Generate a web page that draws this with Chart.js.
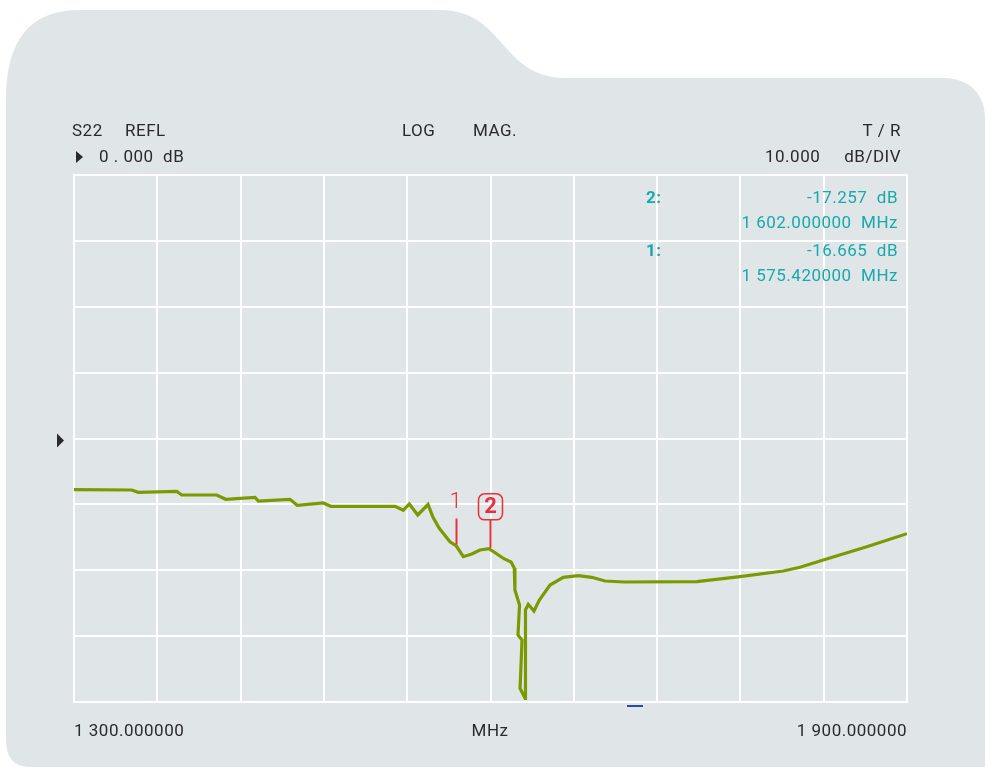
<!DOCTYPE html>
<html>
<head>
<meta charset="utf-8">
<script src="https://cdn.jsdelivr.net/npm/chart.js@4/dist/chart.umd.min.js"></script>
<style>
  html, body { margin: 0; padding: 0; background: #fff; }
  #box { width: 985px; height: 767px; position: relative; }
</style>
</head>
<body>
<div id="box"><canvas id="grafico" width="985" height="767"></canvas></div>
<script>
// Traço S22 (frequência em MHz, magnitude em dB)
const freqMHz = [1300, 1341.6, 1346.3, 1374.0, 1377.6, 1402.8, 1409.3, 1430.4, 1432.8, 1455.6,
  1460.8, 1479.6, 1484.9, 1531.2, 1537.2, 1541.5, 1547.6, 1555.0, 1558.4, 1563.1,
  1570.8, 1575.4, 1580.4, 1586.5, 1592.4, 1598.9, 1603.3, 1609.7, 1614.8, 1617.1,
  1617.6, 1620.9, 1619.8, 1622.7, 1621.3, 1624.9, 1625.2, 1627.2, 1631.3, 1635.2,
  1642.9, 1652.4, 1663.2, 1672.9, 1682.5, 1696.2, 1748.7, 1779.7, 1810.9, 1822.9,
  1839.7, 1871.0, 1900];
const magDb = [-7.77, -7.82, -8.17, -8.02, -8.58, -8.58, -9.23, -8.93, -9.49, -9.23,
  -10.14, -9.79, -10.29, -10.29, -10.90, -9.94, -11.61, -10.02, -11.87, -13.63,
  -15.67, -16.32, -17.94, -17.53, -16.93, -16.73, -17.34, -18.25, -18.75, -19.66,
  -23.0, -25.28, -29.83, -30.59, -37.92, -39.44, -26.03, -25.17, -26.19, -24.52,
  -22.24, -21.07, -20.83, -21.07, -21.63, -21.78, -21.74, -20.98, -20.11, -19.55,
  -18.44, -16.43, -14.45];

// Marcadores (posição como aparece no desenho)
const markerNames = ["1", "2"];
const markerFreq = [1575.4, 1599.6];
const markerLevel = [-16.1, -16.6];
const markerReadDb = ["-17.257  dB", "-16.665  dB"];
const markerReadHz = ["1 602.000000  MHz", "1 575.420000  MHz"];
const markerReadName = ["2:", "1:"];

// Eixos
const freqStart = 1300, freqStop = 1900, freqStep = 60;
const refLevel = 0, dbPerDiv = 10, nDiv = 8;
const startLabel = "1 300.000000";
const stopLabel = "1 900.000000";

const FONTE = "Roboto, 'Liberation Sans', sans-serif";
const cinza = "#e0e5e8";
const texto = "#2a2a2a";
const teal = "#17a9ab";
const vermelho = "#e8303a";

// Fundo com o formato de pasta
const fundoPlugin = {
    id: "fundo",
    beforeDraw(chart) {
        const c = chart.ctx;
        c.save();
        c.fillStyle = cinza;
        c.beginPath();
        c.moveTo(6, 740);
        c.lineTo(6, 100);
        c.bezierCurveTo(6, 40, 30, 10, 79, 10);
        c.lineTo(440, 10);
        c.bezierCurveTo(505, 10, 500, 78, 566, 78);
        c.lineTo(943, 78);
        c.bezierCurveTo(970, 78, 985, 95, 985, 118);
        c.lineTo(985, 767);
        c.lineTo(30, 767);
        c.quadraticCurveTo(6, 767, 6, 740);
        c.closePath();
        c.fill();
        c.restore();
    }
};

// Textos do analisador e marcadores
const textosPlugin = {
    id: "textos",
    afterDraw(chart) {
        const c = chart.ctx;
        const xs = chart.scales.x, ys = chart.scales.y;
        c.save();
        c.textBaseline = "middle";
        c.letterSpacing = "0.5px";
        c.font = "17px " + FONTE;
        c.fillStyle = texto;
        c.textAlign = "left";
        c.fillText("S22", 72, 132);
        c.fillText("REFL", 125, 132);
        c.fillText("LOG", 402, 132);
        c.fillText("MAG.", 473, 132);
        c.fillText("0 . 000  dB", 99, 158);
        c.fillText("10.000", 765, 158);
        c.textAlign = "right";
        c.fillText("T / R", 901, 132);
        c.fillText("dB/DIV", 901, 158);

        // triângulo do nível de referência
        c.beginPath();
        c.moveTo(76, 151); c.lineTo(83, 157); c.lineTo(76, 163); c.closePath();
        c.fill();
        let yRef = ys.getPixelForValue(refLevel) + 2;
        c.beginPath();
        c.moveTo(57, yRef - 7); c.lineTo(64, yRef); c.lineTo(57, yRef + 7); c.closePath();
        c.fill();

        // rodapé
        c.textAlign = "left";
        c.fillText(startLabel, xs.left, 732);
        c.textAlign = "center";
        c.fillText("MHz", 490, 732);
        c.textAlign = "right";
        c.fillText(stopLabel, xs.right, 732);

        // pequeno traço azul abaixo do gráfico
        c.fillStyle = "#2e4a9e";
        c.fillRect(627, 705, 16, 2);

        // leituras dos marcadores
        for (let i = 0; i < markerReadName.length; i++) {
            let y0 = 199 + i * 53;
            c.fillStyle = teal;
            c.textAlign = "left";
            c.font = "bold 17px " + FONTE;
            c.fillText(markerReadName[i], 646, y0);
            c.font = "17px " + FONTE;
            c.textAlign = "right";
            c.fillText(markerReadDb[i], 898, y0);
            c.fillText(markerReadHz[i], 898, y0 + 25);
        }

        // marcadores no traço
        c.letterSpacing = "0px";
        c.strokeStyle = vermelho;
        c.fillStyle = vermelho;
        c.lineWidth = 2;
        for (let i = 0; i < markerFreq.length; i++) {
            let px = Math.round(xs.getPixelForValue(markerFreq[i])) + 0.5;
            let py = ys.getPixelForValue(markerLevel[i]);
            c.textAlign = "center";
            if (i === 0) {
                c.beginPath(); c.moveTo(px, py - 26); c.lineTo(px, py); c.stroke();
                c.font = "300 22px " + FONTE;
                c.fillText(markerNames[i], px - 1, py - 42);
            } else {
                c.beginPath(); c.moveTo(px, py - 28); c.lineTo(px, py); c.stroke();
                c.lineWidth = 1.5;
                c.beginPath();
                c.roundRect(px - 12, py - 54, 24, 26, 6);
                c.stroke();
                c.font = "bold 22px " + FONTE;
                c.fillText(markerNames[i], px, py - 40);
            }
        }
        c.restore();
    }
};

let ctx = document.getElementById("grafico").getContext("2d");
window.myChart = new Chart(ctx, {
    type: "line",
    data: {
        datasets: [{
            label: "S22",
            data: freqMHz.map((f, i) => ({ x: f, y: magDb[i] })),
            borderColor: "#7b9a02",
            borderWidth: 3.2,
            pointRadius: 0,
            fill: false,
            tension: 0
        }]
    },
    options: {
        responsive: false,
        animation: false,
        events: [],
        layout: { padding: { left: 74, top: 175, right: 78, bottom: 65 } },
        plugins: { legend: { display: false }, tooltip: { enabled: false } },
        scales: {
            x: {
                type: "linear",
                min: freqStart,
                max: freqStop,
                ticks: { display: false, stepSize: freqStep },
                grid: { color: "#ffffff", lineWidth: 2, drawTicks: false },
                border: { color: "#ffffff", width: 2 }
            },
            y: {
                type: "linear",
                min: refLevel - dbPerDiv * nDiv / 2,
                max: refLevel + dbPerDiv * nDiv / 2,
                ticks: { display: false, stepSize: dbPerDiv },
                grid: { color: "#ffffff", lineWidth: 2, drawTicks: false },
                border: { color: "#ffffff", width: 2 }
            }
        }
    },
    plugins: [fundoPlugin, textosPlugin]
});
</script>
</body>
</html>
